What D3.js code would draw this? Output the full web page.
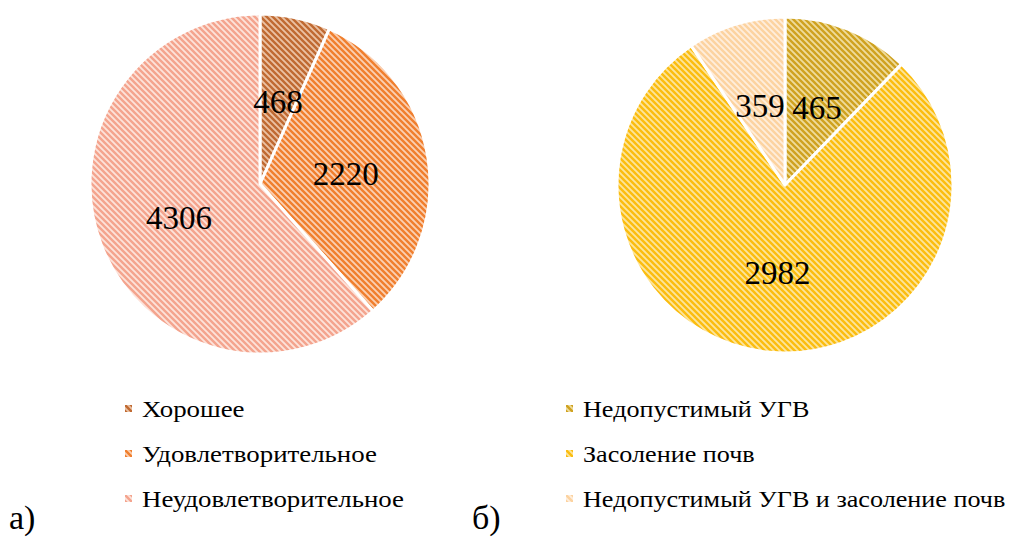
<!DOCTYPE html>
<html>
<head>
<meta charset="utf-8">
<script src="https://cdn.jsdelivr.net/npm/d3@7"></script>
<style>
  body { margin: 0; background: #fff; }
  svg { display: block; }
</style>
</head>
<body>
<div id="chart"></div>
<script>
// chart a)
const catsA = ['Хорошее', 'Удовлетворительное', 'Неудовлетворительное'];
const valsA = [468, 2220, 4306];
const stripeA = ['#c06a32', '#f07f2e', '#f4a48e'];
const baseA = ['#ebc2a4', '#fbd0b2', '#fde3da'];

// chart b)
const catsB = ['Недопустимый УГВ', 'Засоление почв', 'Недопустимый УГВ и засоление почв'];
const valsB = [465, 2982, 359];
const stripeB = ['#cfa220', '#fbbd10', '#fcd3a0'];
const baseB = ['#efdc9c', '#fde59c', '#ffeedc'];

const serif = "'Liberation Serif'";
const width = 1017, height = 538;
const svg = d3.select('#chart').append('svg')
  .attr('width', width)
  .attr('height', height);

const defs = svg.append('defs');

function makePattern(id, base, stripe) {
  const p = defs.append('pattern')
    .attr('id', id)
    .attr('patternUnits', 'userSpaceOnUse')
    .attr('width', 6)
    .attr('height', 6);
  p.append('rect').attr('width', 6).attr('height', 6).attr('fill', base);
  p.append('path')
    .attr('d', 'M-1,-1L7,7M-1,5L1,7M5,-1L7,1')
    .attr('stroke', stripe)
    .attr('stroke-width', 2.4);
}

function drawPie(opts) {
  const { cats, vals, stripes, bases, cx, cy, r, key, legendX, legendY, stretch } = opts;
  cats.forEach((c, i) => makePattern(`${key}-${i}`, bases[i], stripes[i]));

  const pie = d3.pie().sort(null).value(d => d)(vals);
  const arc = d3.arc().innerRadius(0).outerRadius(r);
  const labelArc = d3.arc().innerRadius(r * 0.51).outerRadius(r * 0.51);

  const g = svg.append('g').attr('transform', `translate(${cx},${cy})`);

  g.selectAll('path.slice')
    .data(pie)
    .join('path')
    .attr('class', 'slice')
    .attr('d', arc)
    .attr('fill', (d, i) => `url(#${key}-${i})`)
    .attr('stroke', '#fff')
    .attr('stroke-width', 3)
    .attr('stroke-linejoin', 'round');

  g.selectAll('text.lbl')
    .data(pie)
    .join('text')
    .attr('class', 'lbl')
    .attr('transform', d => `translate(${labelArc.centroid(d)})`)
    .attr('text-anchor', 'middle')
    .attr('dy', '0.42em')
    .attr('font-size', 33)
    .style('font-family', serif)
    .attr('fill', '#000')
    .text(d => d.data);

  // legend text in the source is a little wider than normal, hence the stretch
  const leg = svg.append('g').attr('transform', `translate(${legendX},${legendY})`);
  const item = leg.selectAll('g')
    .data(cats)
    .join('g')
    .attr('transform', (d, i) => `translate(0,${i * 45})`);
  item.append('rect')
    .attr('x', -3).attr('y', -3)
    .attr('width', 7).attr('height', 7)
    .attr('fill', (d, i) => `url(#${key}-${i})`);
  item.append('text')
    .attr('transform', `scale(${stretch},1)`)
    .attr('x', 14 / stretch)
    .attr('dy', '0.36em')
    .attr('font-size', 24)
    .style('font-family', serif)
    .attr('fill', '#000')
    .text(d => d);
}

drawPie({ cats: catsA, vals: valsA, stripes: stripeA, bases: baseA,
  cx: 260, cy: 184, r: 170, key: 'pa', legendX: 128, legendY: 408, stretch: 1.12 });
drawPie({ cats: catsB, vals: valsB, stripes: stripeB, bases: baseB,
  cx: 785, cy: 185, r: 168, key: 'pb', legendX: 569, legendY: 408, stretch: 1.09 });

svg.append('text').attr('x', 9).attr('y', 529).attr('font-size', 34)
  .style('font-family', serif).text('а)');
svg.append('text').attr('x', 472).attr('y', 529).attr('font-size', 34)
  .style('font-family', serif).text('б)');
</script>
</body>
</html>
